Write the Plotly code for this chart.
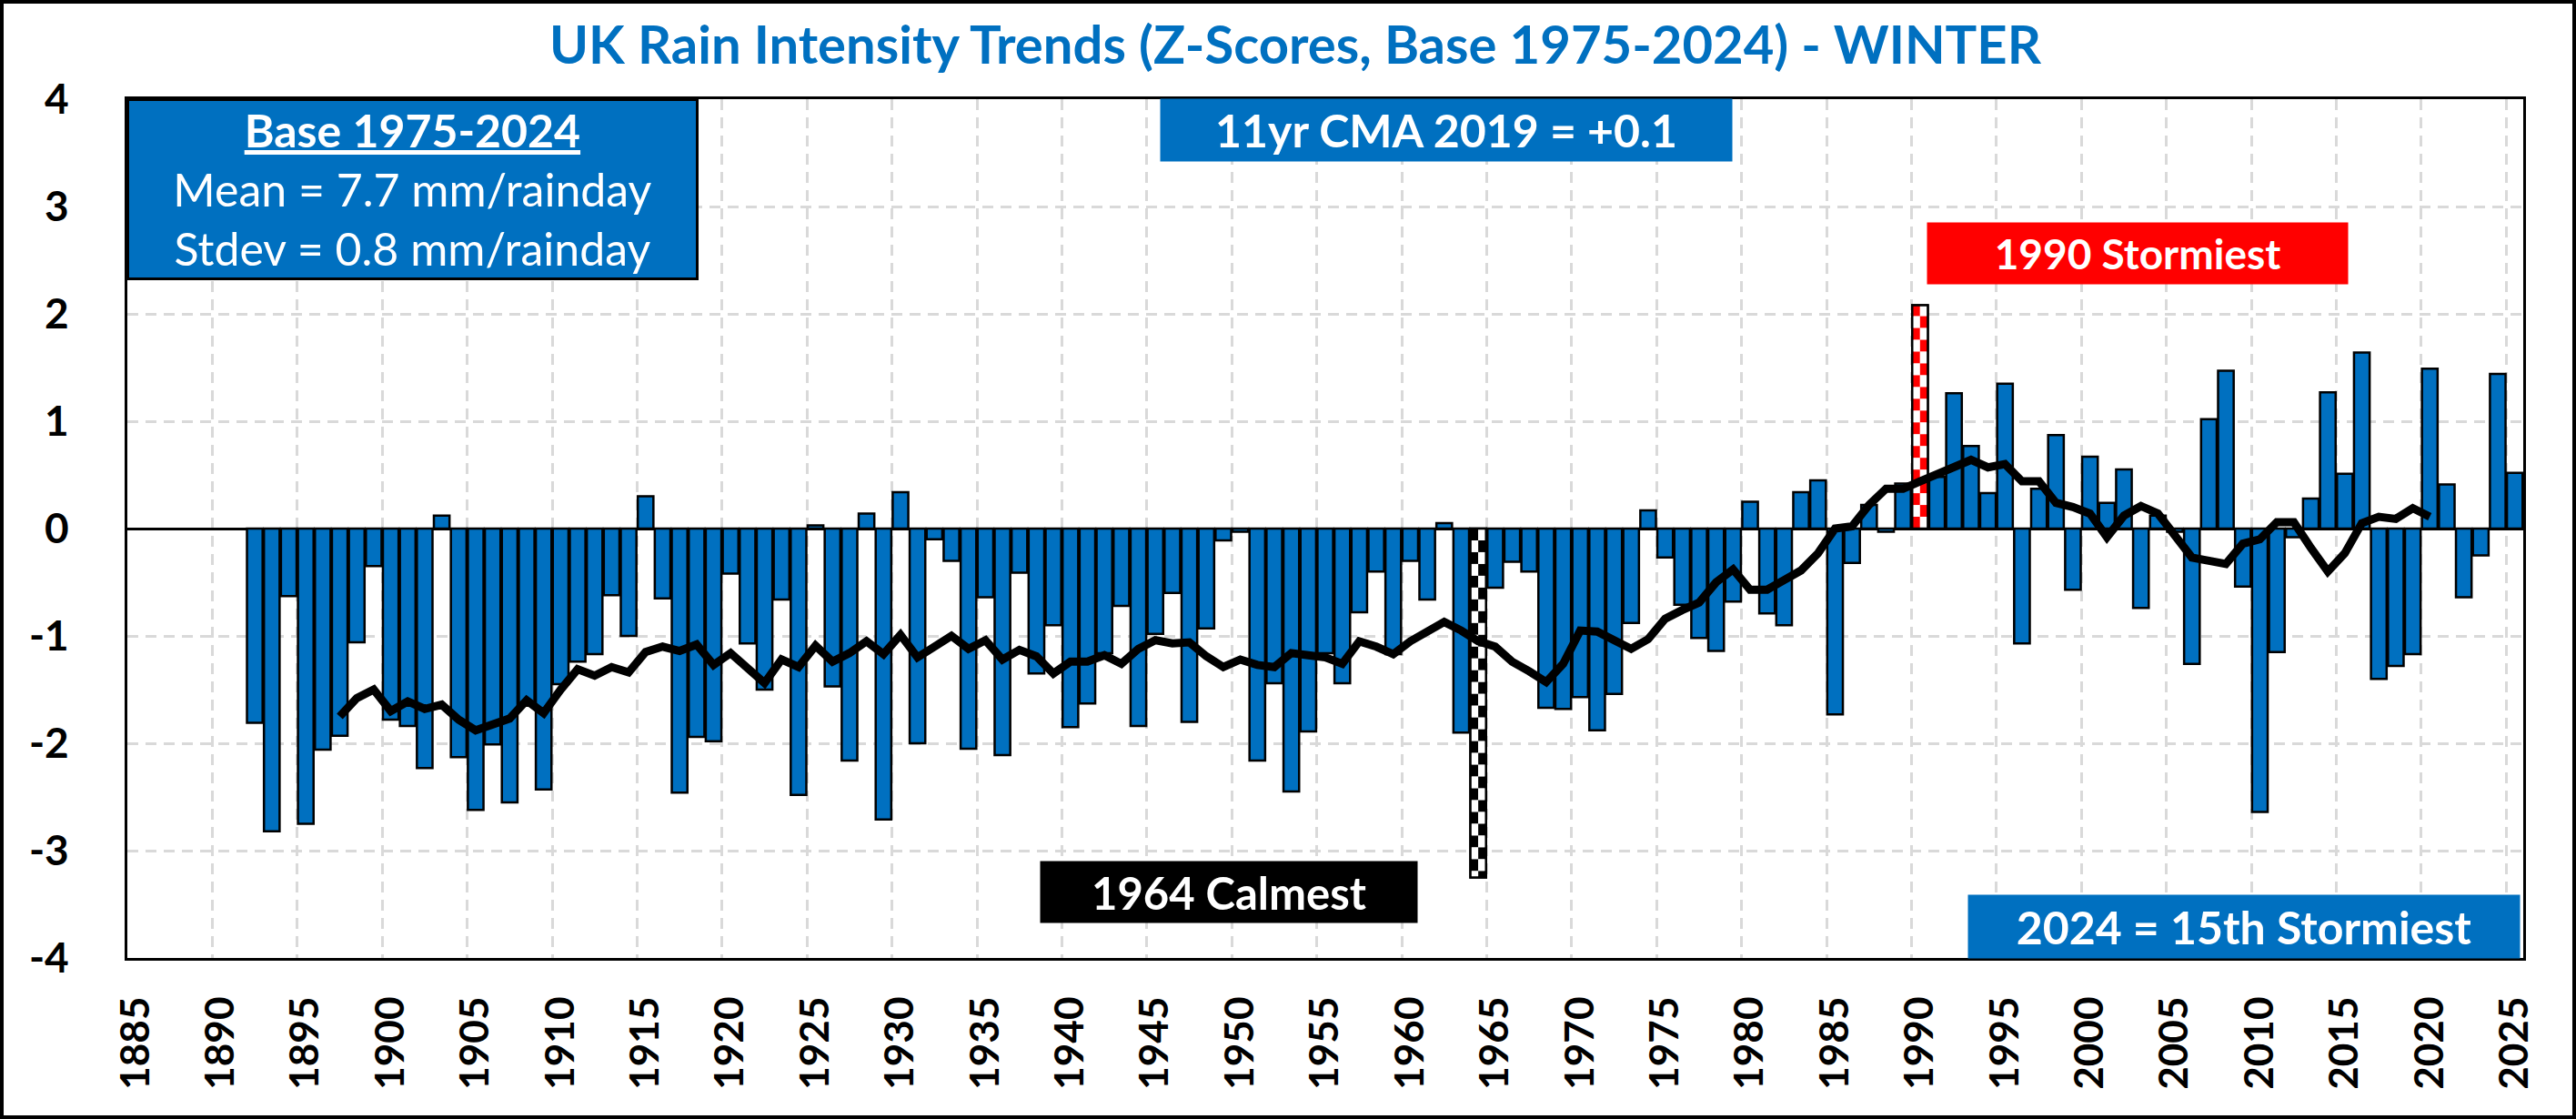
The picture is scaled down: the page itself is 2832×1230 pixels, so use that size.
import plotly.graph_objects as go
import numpy as np

# ---------------- data ----------------
years = list(range(1892, 2026))
z_scores = [
    -1.81, -2.82, -0.63, -2.75, -2.06, -1.93, -1.06, -0.35, -1.78, -1.84,  # 1892-1901
    -2.23, 0.12, -2.13, -2.62, -2.01, -2.55, -1.65, -2.43, -1.45, -1.24,   # 1902-1911
    -1.17, -0.62, -1.00, 0.30, -0.65, -2.46, -1.94, -1.98, -0.42, -1.07,   # 1912-1921
    -1.50, -0.66, -2.48, 0.03, -1.47, -2.16, 0.14, -2.71, 0.34, -2.00,     # 1922-1931
    -0.10, -0.30, -2.05, -0.64, -2.11, -0.41, -1.35, -0.90, -1.85, -1.63,  # 1932-1941
    -1.16, -0.72, -1.84, -0.98, -0.60, -1.80, -0.93, -0.11, -0.03, -2.16,  # 1942-1951
    -1.44, -2.45, -1.89, -1.16, -1.44, -0.78, -0.40, -1.17, -0.30, -0.66,  # 1952-1961
    0.05, -1.90, -3.25, -0.55, -0.31, -0.40, -1.67, -1.68, -1.57, -1.88,   # 1962-1971
    -1.54, -0.88, 0.17, -0.27, -0.71, -1.02, -1.14, -0.68, 0.25, -0.79,    # 1972-1981
    -0.90, 0.34, 0.45, -1.73, -0.32, 0.22, -0.03, 0.42, 2.08, 0.48,        # 1982-1991
    1.26, 0.77, 0.33, 1.35, -1.07, 0.37, 0.87, -0.57, 0.67, 0.24,          # 1992-2001
    0.55, -0.74, 0.12, -0.03, -1.26, 1.02, 1.47, -0.54, -2.64, -1.15,      # 2002-2011
    -0.08, 0.28, 1.27, 0.51, 1.64, -1.40, -1.28, -1.17, 1.49, 0.41,        # 2012-2021
    -0.64, -0.25, 1.44, 0.52,                                              # 2022-2025
]

cma_years = list(range(1897, 2021))
cma_values = [
    -1.75, -1.58, -1.50, -1.70, -1.61, -1.68, -1.64, -1.78, -1.88, -1.82,  # 1897-1906
    -1.77, -1.60, -1.72, -1.50, -1.31, -1.37, -1.29, -1.34, -1.15, -1.10,  # 1907-1916
    -1.14, -1.08, -1.27, -1.16, -1.31, -1.44, -1.22, -1.29, -1.09, -1.24,  # 1917-1926
    -1.16, -1.05, -1.17, -0.99, -1.20, -1.09, -1.00, -1.12, -1.04, -1.22,  # 1927-1936
    -1.13, -1.19, -1.35, -1.24, -1.24, -1.18, -1.26, -1.12, -1.04, -1.07,  # 1937-1946
    -1.06, -1.19, -1.29, -1.22, -1.27, -1.29, -1.16, -1.18, -1.20, -1.26,  # 1947-1956
    -1.05, -1.10, -1.17, -1.05, -0.96, -0.87, -0.95, -1.05, -1.10, -1.24,  # 1957-1966
    -1.33, -1.43, -1.26, -0.95, -0.96, -1.05, -1.12, -1.03, -0.84, -0.76,  # 1967-1976
    -0.69, -0.50, -0.38, -0.57, -0.57, -0.48, -0.39, -0.23, 0.00, 0.02,    # 1977-1986
    0.22, 0.37, 0.37, 0.44, 0.50, 0.57, 0.64, 0.57, 0.60, 0.44,            # 1987-1996
    0.44, 0.24, 0.20, 0.14, -0.08, 0.12, 0.21, 0.14, -0.08, -0.27,         # 1997-2006
    -0.30, -0.33, -0.14, -0.10, 0.06, 0.06, -0.18, -0.40, -0.23, 0.05,     # 2007-2016
    0.11, 0.09, 0.19, 0.11,                                                # 2017-2020
]

x_tick_years = list(range(1885, 2026, 5))
y_ticks = [-4, -3, -2, -1, 0, 1, 2, 3, 4]

title_text = "UK Rain Intensity Trends (Z-Scores, Base 1975-2024) - WINTER"
base_text = "<b><u>Base 1975-2024</u></b><br>Mean = 7.7 mm/rainday<br>Stdev = 0.8 mm/rainday"
cma_text = "11yr CMA 2019 = +0.1"
storm_text = "1990 Stormiest"
calm_text = "1964 Calmest"
latest_text = "2024 = 15th Stormiest"

# ---------------- styling ----------------
BLUE = "#0070C0"
FONT = "Lato"
W, H = 2832, 1230
ML, MR, MT, MB = 140, 58, 109, 177
BAR_W = 0.92
CHECK_H = 0.11   # checker square height (z units)

i_max = int(np.argmax(z_scores))
i_min = int(np.argmin(z_scores))

bar_colors = [BLUE] * len(years)
bar_colors[i_max] = "white"
bar_colors[i_min] = "white"

fig = go.Figure()
fig.add_trace(go.Bar(
    x=years, y=z_scores,
    marker=dict(color=bar_colors, line=dict(color="black", width=2.5)),
    width=BAR_W, showlegend=False, hoverinfo="x+y",
))


def add_checker(year, value, color):
    n = int(np.ceil(abs(value) / CHECK_H))
    sgn = 1.0 if value >= 0 else -1.0
    bases = [sgn * k * CHECK_H for k in range(n)]
    heights = [sgn * min(CHECK_H, abs(value) - k * CHECK_H) for k in range(n)]
    half = BAR_W / 2
    for col, off in enumerate([-half, 0.0]):
        cols = [color if (k + col) % 2 == 0 else "white" for k in range(n)]
        fig.add_trace(go.Bar(
            x=[year] * n, y=heights, base=bases, width=half, offset=off,
            marker=dict(color=cols, line=dict(width=0)),
            showlegend=False, hoverinfo="skip",
        ))
    fig.add_trace(go.Bar(
        x=[year], y=[value], width=BAR_W,
        marker=dict(color="rgba(0,0,0,0)", line=dict(color="black", width=2.5)),
        showlegend=False, hoverinfo="skip",
    ))


add_checker(years[i_max], z_scores[i_max], "#FF0000")
add_checker(years[i_min], z_scores[i_min], "black")

fig.add_trace(go.Scatter(
    x=cma_years, y=cma_values, mode="lines",
    line=dict(color="black", width=9),
    showlegend=False,
))

grid = dict(gridcolor="#D9D9D9", gridwidth=3, griddash="12px,8px")

fig.update_layout(
    width=W, height=H,
    margin=dict(l=ML, r=MR, t=MT, b=MB, pad=0),
    paper_bgcolor="white", plot_bgcolor="white",
    barmode="overlay",
    title=dict(text="<b>" + title_text + "</b>", x=1424 / W, xref="container", xanchor="center",
               y=1 - 50 / H, yref="container", yanchor="middle",
               font=dict(family=FONT, size=58, color=BLUE)),
    xaxis=dict(
        range=[1884.5, 2025.5], tickmode="array", tickvals=x_tick_years,
        ticktext=[str(v) for v in x_tick_years], tickangle=-90,
        tickfont=dict(family=FONT, size=44, color="black", weight="bold"),
        showgrid=False, zeroline=False, ticks="", ticklabelstandoff=22,
        showline=True, linecolor="black", linewidth=3, mirror=True,
        minor=dict(tick0=1889.5, dtick=5, showgrid=True, ticks="", **grid),
    ),
    yaxis=dict(
        range=[-4, 4], tickmode="array", tickvals=y_ticks,
        ticktext=[str(v) for v in y_ticks],
        tickfont=dict(family=FONT, size=46, color="black", weight="bold"),
        showgrid=True, **grid,
        zeroline=True, zerolinecolor="black", zerolinewidth=3,
        ticks="", ticklabelstandoff=52,
        showline=True, linecolor="black", linewidth=3, mirror=True,
    ),
)


def px_x(px):
    return (px - ML) / (W - ML - MR)


def px_y(py):
    return (H - MB - py) / (H - MT - MB)


box_font = dict(family=FONT, color="white")
fig.add_annotation(text=base_text, xref="paper", yref="paper",
                   x=px_x(139), y=px_y(108), xanchor="left", yanchor="top",
                   width=623, height=194, align="center", showarrow=False,
                   bgcolor=BLUE, bordercolor="black", borderwidth=3, borderpad=0,
                   font=dict(size=50, **box_font))
fig.add_annotation(text="<b>" + cma_text + "</b>", xref="paper", yref="paper",
                   x=px_x(1590), y=px_y(143), xanchor="center", yanchor="middle",
                   width=628, height=68, showarrow=False, bgcolor=BLUE, borderpad=0,
                   font=dict(size=50, **box_font))
fig.add_annotation(text="<b>" + storm_text + "</b>", xref="paper", yref="paper",
                   x=px_x(2350), y=px_y(278), xanchor="center", yanchor="middle",
                   width=462, height=67, showarrow=False, bgcolor="#FF0000", borderpad=0,
                   font=dict(size=46, **box_font))
fig.add_annotation(text="<b>" + calm_text + "</b>", xref="paper", yref="paper",
                   x=px_x(1351), y=px_y(980), xanchor="center", yanchor="middle",
                   width=414, height=67, showarrow=False, bgcolor="black", borderpad=0,
                   font=dict(size=49, **box_font))
fig.add_annotation(text="<b>" + latest_text + "</b>", xref="paper", yref="paper",
                   x=px_x(2467), y=px_y(1018), xanchor="center", yanchor="middle",
                   width=606, height=69, showarrow=False, bgcolor=BLUE, borderpad=0,
                   font=dict(size=50, **box_font))

# outer chart border
fig.add_shape(type="rect", xref="paper", yref="paper",
              x0=px_x(2), x1=px_x(W - 2), y0=px_y(H - 2), y1=px_y(2),
              line=dict(color="black", width=4), fillcolor="rgba(0,0,0,0)", layer="above")

fig.write_html("out.html", config={"displayModeBar": False},
               post_script="document.body.style.margin='0';document.body.style.overflow='hidden';")
